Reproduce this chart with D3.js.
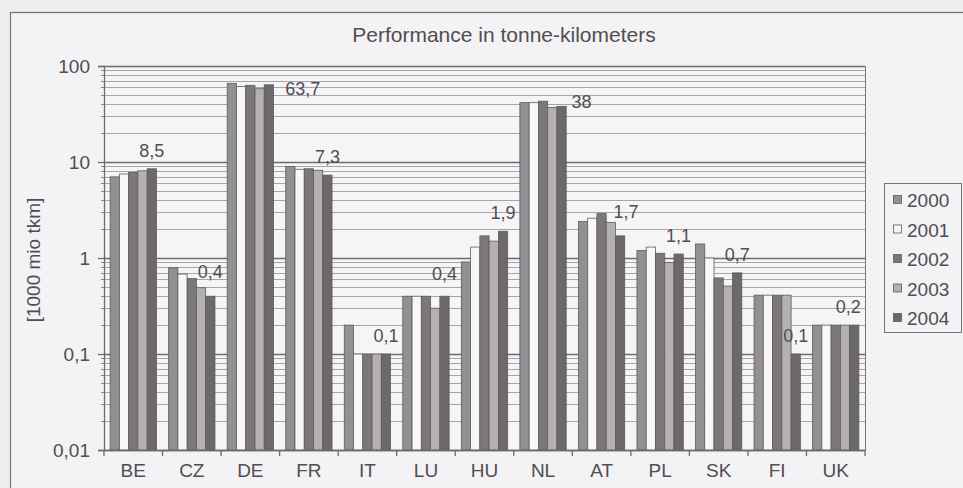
<!DOCTYPE html>
<html>
<head>
<meta charset="utf-8">
<script src="https://cdn.jsdelivr.net/npm/d3@7/dist/d3.min.js"></script>
<style>
  html, body { margin: 0; padding: 0; background: #eeedef; }
  svg { display: block; }
  text { font-family: "Liberation Sans", Arial, Helvetica, sans-serif; fill: #524d52; }
</style>
</head>
<body>
<svg id="chart" width="963" height="488"></svg>
<script>
// ---------- DATA ----------
const categories = ["BE", "CZ", "DE", "FR", "IT", "LU", "HU", "NL", "AT", "PL", "SK", "FI", "UK"];
const years = ["2000", "2001", "2002", "2003", "2004"];
const v2000 = [7.0, 0.79, 66, 9.0, 0.2, 0.4, 0.91, 41.5, 2.4, 1.2, 1.4, 0.41, 0.2];
const v2001 = [7.5, 0.68, 61, 8.4, 0.1, 0.4, 1.3, 41.5, 2.6, 1.3, 1.0, 0.41, 0.2];
const v2002 = [7.8, 0.61, 63, 8.5, 0.1, 0.4, 1.7, 43, 2.9, 1.12, 0.62, 0.41, 0.2];
const v2003 = [8.1, 0.49, 58, 8.2, 0.1, 0.3, 1.5, 37, 2.35, 0.9, 0.51, 0.41, 0.2];
const v2004 = [8.5, 0.4, 63.7, 7.3, 0.1, 0.4, 1.9, 38, 1.7, 1.1, 0.7, 0.1, 0.2];
const labels2004 = ["8,5", "0,4", "63,7", "7,3", "0,1", "0,4", "1,9", "38", "1,7", "1,1", "0,7", "0,1", "0,2"];
const yTicks = [0.01, 0.1, 1, 10, 100];
const yTickLabels = ["0,01", "0,1", "1", "10", "100"];
const title = "Performance in tonne-kilometers";
const yTitle = "[1000 mio tkm]";

// ---------- STYLE / LAYOUT ----------
const colors = ["#938f94", "#f7f7f7", "#7c777b", "#b4b1b5", "#6d686c"];
const labelDx = [0, 0, 34, 0, 0, 0, 0, 20, 6, 0, 0, 0, -6];
const labelDy = [0, -6, 22, 0, 0, -4, 0, 14, -6, 0, 0, 0, 0];
const plot = { left: 104, right: 865, top: 66, bottom: 450 };

const series = [v2000, v2001, v2002, v2003, v2004];
const svg = d3.select("#chart");

// outer frame
svg.append("rect").attr("x", 10.5).attr("y", 12.5).attr("width", 1000).attr("height", 1000)
  .attr("fill", "#f3f2f4").attr("stroke", "#77727a").attr("stroke-width", 1.2);

const x0 = d3.scaleBand().domain(categories).range([plot.left, plot.right]);
const x1 = d3.scaleBand().domain(years).range([0, x0.bandwidth()]).paddingOuter(0.66);
const y = d3.scaleLog().domain([0.01, 100]).range([plot.bottom, plot.top]);

// plot background
svg.append("rect").attr("x", plot.left).attr("y", plot.top)
  .attr("width", plot.right - plot.left).attr("height", plot.bottom - plot.top)
  .attr("fill", "#f5f5f6");

// gridlines (minor + major)
const gridVals = [];
for (let e = -2; e < 2; e++) for (let m = 1; m <= 9; m++) gridVals.push(m * Math.pow(10, e));
gridVals.push(100);
svg.append("g").selectAll("line").data(gridVals).join("line")
  .attr("x1", plot.left).attr("x2", plot.right)
  .attr("y1", d => Math.round(y(d)) + 0.5).attr("y2", d => Math.round(y(d)) + 0.5)
  .attr("stroke", d => yTicks.includes(d) ? "#6f6a70" : "#a8a5aa")
  .attr("stroke-width", d => yTicks.includes(d) ? 1.3 : 1);

// right border of plot
svg.append("line").attr("x1", plot.right + 0.5).attr("x2", plot.right + 0.5)
  .attr("y1", plot.top).attr("y2", plot.bottom).attr("stroke", "#77727a");

// bars
const g = svg.append("g");
categories.forEach((c, i) => {
  g.selectAll(null).data(years).join("rect")
    .attr("x", (yr) => x0(c) + x1(yr))
    .attr("width", x1.bandwidth())
    .attr("y", (yr, j) => y(series[j][i]))
    .attr("height", (yr, j) => plot.bottom - y(series[j][i]))
    .attr("fill", (yr, j) => colors[j])
    .attr("stroke", "#5f5a5e").attr("stroke-width", 0.8);
});

// y axis
const yAxis = d3.axisLeft(y).tickValues(yTicks).tickFormat((d, i) => yTickLabels[i]).tickSize(6).tickPadding(8);
const ya = svg.append("g").attr("transform", `translate(${plot.left},0)`).call(yAxis);
ya.select(".domain").attr("stroke", "#6f6a70").attr("stroke-width", 1.3);
ya.selectAll(".tick line").attr("stroke", "#6f6a70").attr("stroke-width", 1.3);
ya.selectAll(".tick text").style("font-size", "19px").attr("fill", "#524d52")
  .style("font-family", "Liberation Sans, Arial, sans-serif");
// minor ticks on axis
svg.append("g").selectAll("line").data(gridVals.filter(d => !yTicks.includes(d))).join("line")
  .attr("x1", plot.left - 3).attr("x2", plot.left)
  .attr("y1", d => Math.round(y(d)) + 0.5).attr("y2", d => Math.round(y(d)) + 0.5)
  .attr("stroke", "#8a868b");

// x axis
const xa = svg.append("g").attr("transform", `translate(0,${plot.bottom})`)
  .call(d3.axisBottom(x0).tickSize(0).tickPadding(14));
xa.select(".domain").attr("stroke", "#6f6a70").attr("stroke-width", 1.3);
xa.selectAll(".tick text").style("font-size", "19px").attr("fill", "#524d52")
  .style("font-family", "Liberation Sans, Arial, sans-serif");
// category separators
svg.append("g").selectAll("line").data(categories.concat(["__end"])).join("line")
  .attr("x1", (c, i) => plot.left + i * x0.step()).attr("x2", (c, i) => plot.left + i * x0.step())
  .attr("y1", plot.bottom).attr("y2", plot.bottom + 6)
  .attr("stroke", "#6f6a70").attr("stroke-width", 1.3);

// data labels (2004 series)
svg.append("g").selectAll("text").data(categories).join("text")
  .attr("x", (c, i) => x0(c) + x1("2004") + x1.bandwidth() / 2 + labelDx[i])
  .attr("y", (c, i) => y(v2004[i]) - 12 + labelDy[i])
  .attr("text-anchor", "middle")
  .style("font-size", "18px")
  .text((c, i) => labels2004[i]);

// title
svg.append("text").attr("x", 504).attr("y", 42).attr("text-anchor", "middle")
  .style("font-size", "21px").text(title);

// y title
svg.append("text").attr("transform", "translate(40,260) rotate(-90)")
  .attr("text-anchor", "middle").style("font-size", "19px").text(yTitle);

// legend
const lg = svg.append("g").attr("transform", "translate(884,183)");
lg.append("rect").attr("x", 0.5).attr("y", 0.5).attr("width", 77).attr("height", 149)
  .attr("fill", "#f3f2f4").attr("stroke", "#77727a");
years.forEach((yr, j) => {
  const cy = 17 + j * 29.5;
  lg.append("rect").attr("x", 9.5).attr("y", cy - 4.5).attr("width", 8).attr("height", 8)
    .attr("fill", colors[j]).attr("stroke", "#5f5a5e").attr("stroke-width", 0.8);
  lg.append("text").attr("x", 23).attr("y", cy + 7).style("font-size", "19px").text(yr);
});
</script>
</body>
</html>
